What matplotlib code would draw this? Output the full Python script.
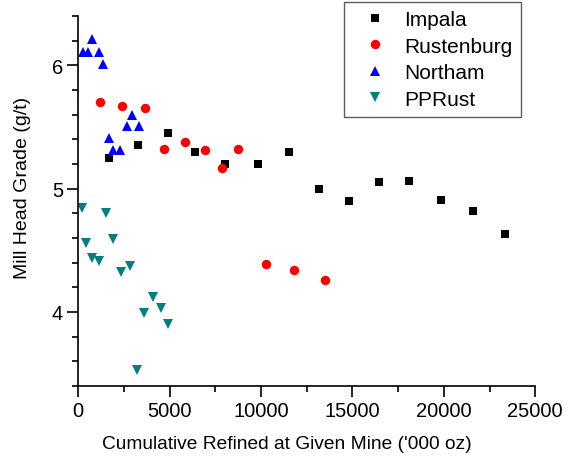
import matplotlib
matplotlib.use("Agg")
import matplotlib.pyplot as plt
from matplotlib.ticker import MultipleLocator

plt.rcParams['font.family'] = ['Liberation Sans', 'DejaVu Sans']

# Cumulative refined ('000 oz) and mill head grade (g/t)
impala_x = [1680, 3250, 4890, 6400, 8040, 9810, 11540, 13170, 14810, 16450, 18110, 19820, 21570, 23340]
impala_y = [5.25, 5.35, 5.45, 5.30, 5.20, 5.20, 5.30, 5.00, 4.90, 5.05, 5.06, 4.91, 4.82, 4.63]

rust_x = [1190, 2390, 3650, 4690, 5840, 6910, 7880, 8750, 10250, 11780, 13510]
rust_y = [5.70, 5.67, 5.65, 5.32, 5.38, 5.31, 5.17, 5.32, 4.39, 4.34, 4.26]

northam_x = [240, 550, 770, 1130, 1370, 2920, 2650, 3300, 1660, 1920, 2280]
northam_y = [6.11, 6.11, 6.21, 6.11, 6.01, 5.60, 5.51, 5.51, 5.41, 5.31, 5.31]

pprust_x = [190, 420, 750, 1120, 1500, 1920, 2340, 2810, 3610, 4070, 4510, 4920, 3190]
pprust_y = [4.84, 4.56, 4.44, 4.41, 4.80, 4.59, 4.32, 4.37, 3.99, 4.12, 4.03, 3.90, 3.53]

fig = plt.figure(figsize=(5.67, 4.6), dpi=100)
ax = fig.add_axes([0.138, 0.159, 0.806, 0.804])

ax.plot(impala_x, impala_y, 's', color='black', markersize=5.2, markeredgewidth=0, label='Impala')
ax.plot(rust_x, rust_y, 'o', color='red', markersize=6.8, markeredgewidth=0, label='Rustenburg')
ax.plot(northam_x, northam_y, '^', color='blue', markersize=7.5, markeredgewidth=0, label='Northam')
ax.plot(pprust_x, pprust_y, 'v', color='#008080', markersize=7.5, markeredgewidth=0, label='PPRust')

ax.set_xlim(0, 25000)
ax.set_ylim(3.4, 6.4)
ax.xaxis.set_major_locator(MultipleLocator(5000))
ax.xaxis.set_minor_locator(MultipleLocator(2500))
ax.yaxis.set_major_locator(MultipleLocator(1))
ax.yaxis.set_minor_locator(MultipleLocator(0.2))
ax.spines['top'].set_visible(False)
ax.spines['right'].set_visible(False)
for s in ['left', 'bottom']:
    ax.spines[s].set_linewidth(1.2)
ax.tick_params(which='major', length=8, width=1.2, labelsize=14.5, pad=3)
ax.tick_params(which='minor', length=4, width=1.2)

ax.set_xlabel("Cumulative Refined at Given Mine ('000 oz)", fontsize=13.8)
ax.set_ylabel("Mill Head Grade (g/t)", fontsize=14)
# labels sit a bit off the axis centres in the original
ax.xaxis.set_label_coords(0.457, -0.132)
ax.yaxis.set_label_coords(-0.103, 0.538)

leg = ax.legend(loc='upper right', bbox_to_anchor=(0.9183, 0.9928), bbox_transform=fig.transFigure,
                borderaxespad=0, fontsize=15, frameon=True, fancybox=False, numpoints=1,
                handlelength=2.2, handletextpad=0.33, borderpad=0.38, labelspacing=0.36)
leg.get_frame().set_edgecolor('#333333')
leg.get_frame().set_linewidth(1.0)

fig.savefig("out.png", dpi=100)
